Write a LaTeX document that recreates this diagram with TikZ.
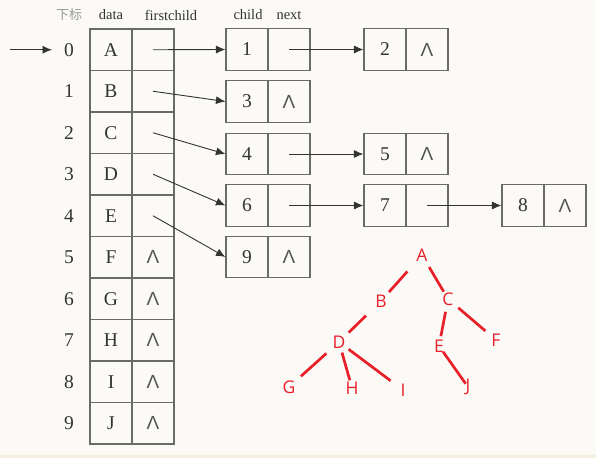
\documentclass[tikz,border=0pt]{standalone}
\usepackage{fontspec}
\setmainfont{Liberation Serif}
\newfontfamily\cjk{Noto Sans CJK SC}
\newfontfamily\treefont{Open Sans}
\newfontfamily\lamfont{Liberation Sans}
\usetikzlibrary{arrows.meta}
\definecolor{bg}{HTML}{FBFAF7}
\definecolor{strip}{HTML}{F5EEE0}
\definecolor{boxgray}{HTML}{6A6A6A}
\definecolor{txt}{HTML}{333333}
\definecolor{lamc}{HTML}{555555}
\definecolor{hdr}{HTML}{999999}
\definecolor{treered}{HTML}{E8202A}
\newcommand{\lam}{{\lamfont\fontsize{19}{19}\selectfont\color{lamc}Λ}}
\begin{document}
\begin{tikzpicture}[x=1pt,y=-1pt,
  cell/.style={draw=boxgray, line width=1.1pt, minimum width=42pt, minimum height=41.5pt, inner sep=0pt, font=\fontsize{19.5}{19.5}\selectfont, text=txt},
  idx/.style={font=\fontsize{19.5}{19.5}\selectfont, text=txt, inner sep=0pt},
  head/.style={font=\fontsize{14.5}{14.5}\selectfont, text=txt, inner sep=0pt},
  ptr/.style={draw=txt, line width=0.9pt, -{Latex[length=9.5pt,width=8pt]}},
  tnode/.style={font=\treefont\fontsize{17.5}{17.5}\selectfont, text=treered, inner sep=0pt},
  tedge/.style={draw=treered, line width=2.7pt}
]
\fill[bg] (0,0) rectangle (596,458);
\fill[strip] (0,455) rectangle (596,458);
\useasboundingbox (0,0) rectangle (596,458);

% headers
\node[head, text=hdr, font=\cjk\fontsize{13}{13}\selectfont] (h0) at (69,15) {下标};
\node[head] (h1) at (111,15) {data};
\node[head] (h2) at (171,15) {firstchild};
\node[head] (h3) at (248,15) {child};
\node[head] (h4) at (289,15) {next};

% table
\foreach \i/\d/\f in {0/A/,1/B/,2/C/,3/D/,4/E/,5/F/\lam,6/G/\lam,7/H/\lam,8/I/\lam,9/J/\lam}{
  \node[idx] (i\i) at (69,{49.75+41.5*\i}) {\i};
  \node[cell] (d\i) at (111,{49.75+41.5*\i}) {\d};
  \node[cell] (f\i) at (153,{49.75+41.5*\i}) {\f};
}
\coordinate (start) at (10,49.75);
\coordinate (arrend) at (52,49.75);
\draw[ptr] (start) -- (arrend);

% child boxes
\node[cell] (c1) at (247,49.5) {1};
\node[cell] (n1) at (289,49.5) {};
\node[cell] (c2) at (385,49.5) {2};
\node[cell] (n2) at (427,49.5) {\lam};
\node[cell] (c3) at (247,101.5) {3};
\node[cell] (n3) at (289,101.5) {\lam};
\node[cell] (c4) at (247,154) {4};
\node[cell] (n4) at (289,154) {};
\node[cell] (c5) at (385,154) {5};
\node[cell] (n5) at (427,154) {\lam};
\node[cell] (c6) at (247,205.5) {6};
\node[cell] (n6) at (289,205.5) {};
\node[cell] (c7) at (385,205.5) {7};
\node[cell] (n7) at (427,205.5) {};
\node[cell] (c8) at (523,205.5) {8};
\node[cell] (n8) at (565,205.5) {\lam};
\node[cell] (c9) at (247,257) {9};
\node[cell] (n9) at (289,257) {\lam};

% pointers
\draw[ptr] (f0.center) -- (c1.west);
\draw[ptr] (f1.center) -- (c3.west);
\draw[ptr] (f2.center) -- (c4.west);
\draw[ptr] (f3.center) -- (c6.west);
\draw[ptr] (f4.center) -- (c9.west);
\draw[ptr] (n1.center) -- (c2.west);
\draw[ptr] (n4.center) -- (c5.west);
\draw[ptr] (n6.center) -- (c7.west);
\draw[ptr] (n7.center) -- (c8.west);

% tree
\node[tnode] (A) at (422,255) {A};
\node[tnode] (B) at (381,301) {B};
\node[tnode] (C) at (448,299) {C};
\node[tnode] (D) at (339,342) {D};
\node[tnode] (E) at (439,346) {E};
\node[tnode] (F) at (496,340) {F};
\node[tnode] (G) at (289,387) {G};
\node[tnode] (H) at (352,388) {H};
\node[tnode] (I) at (403,390) {I};
\node[tnode] (J) at (468,387) {J};
\draw[tedge, shorten <=22pt, shorten >=12pt] (A.center) -- (B.center);
\draw[tedge, shorten <=14pt, shorten >=8.5pt] (A.center) -- (C.center);
\draw[tedge, shorten <=21pt, shorten >=13.5pt] (B.center) -- (D.center);
\draw[tedge, shorten <=13pt, shorten >=10pt] (C.center) -- (E.center);
\draw[tedge, shorten <=13.5pt, shorten >=14pt] (C.center) -- (F.center);
\draw[tedge, shorten <=17pt, shorten >=16pt] (D.center) -- (G.center);
\draw[tedge, shorten <=11pt, shorten >=8pt] (D.center) -- (H.center);
\draw[tedge, shorten <=12pt, shorten >=15.5pt] (D.center) -- (I.center);
\draw[tedge, shorten <=7pt, shorten >=4pt] (E.center) -- (J.center);
\end{tikzpicture}
\end{document}
